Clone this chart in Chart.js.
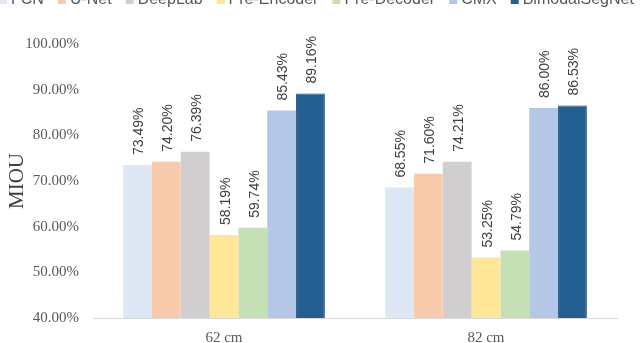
<!DOCTYPE html>
<html>
<head>
<meta charset="utf-8">
<script src="https://cdn.jsdelivr.net/npm/chart.js@4.4.0/dist/chart.umd.min.js"></script>
<style>
  html, body { margin: 0; padding: 0; background: #fff; overflow: hidden; }
  #wrap { position: relative; width: 640px; height: 343px; }
</style>
</head>
<body>
<div id="wrap"><canvas id="chart"></canvas></div>
<script>
const categories = ['62 cm', '82 cm'];
const methods = ['FCN', 'U-Net', 'DeepLab', 'Pre-Encoder', 'Pre-Decoder', 'CMX', 'BimodalSegNet'];
const fcn = [73.49, 68.55];
const unet = [74.20, 71.60];
const deeplab = [76.39, 74.21];
const preEncoder = [58.19, 53.25];
const preDecoder = [59.74, 54.79];
const cmx = [85.43, 86.00];
const bimodal = [89.16, 86.53];
const yTicks = [40, 50, 60, 70, 80, 90, 100];

const colors = ['#dde8f4', '#f8cbad', '#d0cece', '#ffe699', '#c5e0b4', '#b4c7e7', '#255e91'];
const series = [fcn, unet, deeplab, preEncoder, preDecoder, cmx, bimodal];

const sansFont = '"Liberation Sans", Arial, sans-serif';
const serifFont = '"Liberation Serif", "Times New Roman", serif';

// rotated value labels above each bar
const barLabels = {
    id: 'barLabels',
    afterDatasetsDraw(chart) {
        const ctx = chart.ctx;
        ctx.save();
        ctx.font = '14px ' + sansFont;
        ctx.fillStyle = '#404040';
        ctx.textAlign = 'left';
        ctx.textBaseline = 'middle';
        chart.data.datasets.forEach((ds, i) => {
            chart.getDatasetMeta(i).data.forEach((bar, j) => {
                ctx.save();
                ctx.translate(bar.x + 2, bar.y - 10);
                ctx.rotate(-Math.PI / 2);
                ctx.fillText(ds.data[j].toFixed(2) + '%', 0, 0);
                ctx.restore();
            });
        });
        ctx.restore();
    }
};

// legend row along the top edge (clipped like the original)
const topLegend = {
    id: 'topLegend',
    afterDraw(chart) {
        const ctx = chart.ctx;
        ctx.save();
        ctx.font = '16px ' + sansFont;
        ctx.textBaseline = 'middle';
        ctx.textAlign = 'left';
        let x = -1;
        const y = 0;
        chart.data.datasets.forEach(ds => {
            ctx.fillStyle = ds.backgroundColor;
            ctx.fillRect(x, y - 4, 8, 8);
            x += 12;
            ctx.fillStyle = '#595959';
            ctx.fillText(ds.label, x, y);
            x += ctx.measureText(ds.label).width + 14;
        });
        ctx.restore();
    }
};

new Chart(document.getElementById('chart'), {
    type: 'bar',
    data: {
        labels: categories,
        datasets: methods.map((m, i) => ({
            label: m,
            data: series[i],
            backgroundColor: colors[i],
            borderColor: i === 6 ? '#1f4e79' : colors[i],
            borderWidth: i === 6 ? 1 : 0,
            categoryPercentage: 0.77,
            barPercentage: 1.0
        }))
    },
    options: {
        responsive: true,
        maintainAspectRatio: false,
        animation: false,
        layout: { padding: { left: 0, right: 23, top: 44, bottom: -15 } },
        plugins: {
            legend: { display: false },
            tooltip: { enabled: false }
        },
        scales: {
            x: {
                grid: { display: false, drawTicks: false },
                border: { color: '#d9d9d9', width: 1 },
                ticks: {
                    color: '#595959',
                    font: { family: serifFont, size: 15 },
                    padding: 11
                }
            },
            y: {
                min: 40,
                max: 100,
                afterBuildTicks(axis) { axis.ticks = yTicks.map(v => ({ value: v })); },
                afterFit(axis) { axis.width = 93; },
                grid: { display: false, drawTicks: false },
                border: { display: false },
                ticks: {
                    color: '#595959',
                    font: { family: serifFont, size: 15 },
                    padding: 14,
                    callback: v => v.toFixed(2) + '%'
                },
                title: {
                    display: true,
                    text: 'MIOU',
                    color: '#404040',
                    font: { family: serifFont, size: 21 },
                    padding: { top: 5, bottom: 0 }
                }
            }
        }
    },
    plugins: [barLabels, topLegend]
});
</script>
</body>
</html>
